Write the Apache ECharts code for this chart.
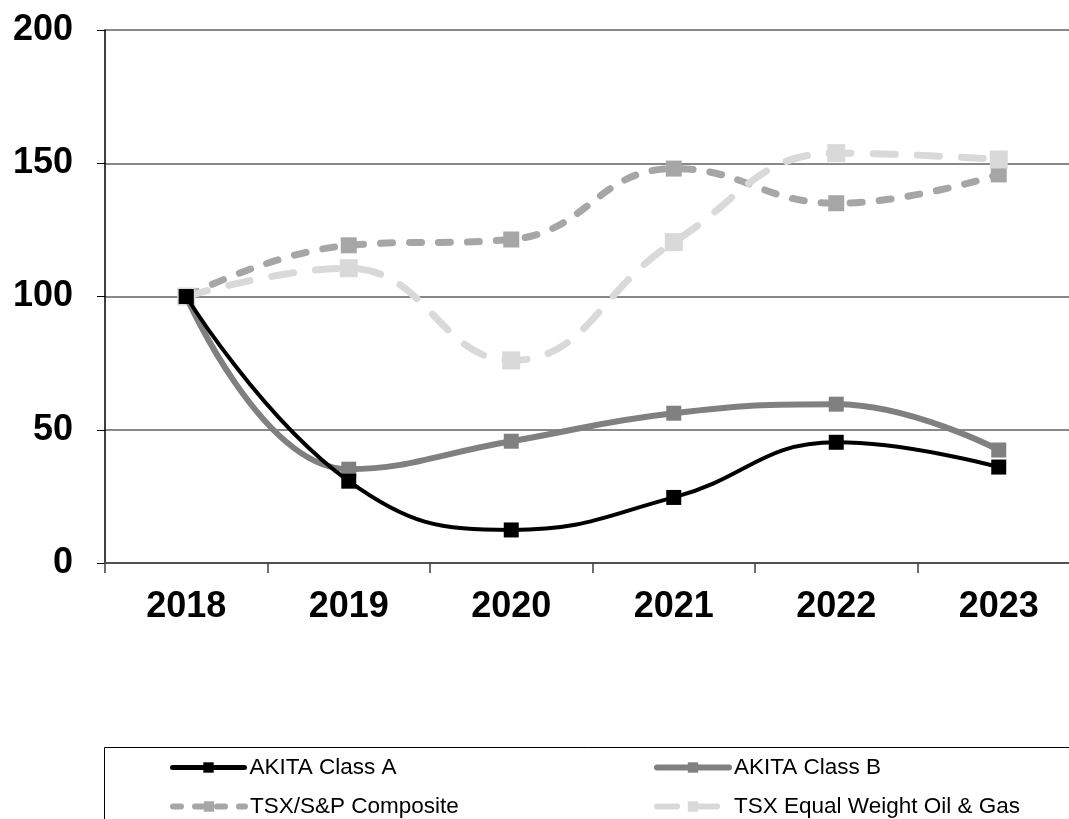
<!DOCTYPE html>
<html><head><meta charset="utf-8">
<script src="https://cdn.jsdelivr.net/npm/echarts@6/dist/echarts.min.js"></script>
<style>html,body{margin:0;padding:0;background:#fff}#c{width:1069px;height:819px}</style>
</head><body><div id="c"></div>
<script>
const years = ['2018','2019','2020','2021','2022','2023'];
const classA = [100, 30.7, 12.4, 24.6, 45.3, 36];
const classB = [100, 35.2, 45.7, 56.2, 59.6, 42.4];
const tsxComposite = [100, 119.2, 121.4, 148, 135, 145.8];
const tsxOilGas = [100, 110.6, 76, 120.4, 153.8, 151.4];
const yTicks = [0, 50, 100, 150, 200];

const F = '"Liberation Sans", Arial, sans-serif';
const chart = echarts.init(document.getElementById('c'));
function legend(name, left, top, ls) {
  return { data: [{ name: name, lineStyle: ls }], left: left, top: top, itemWidth: 72, itemHeight: 13, orient: 'horizontal',
    textStyle: { fontFamily: F, fontSize: 22.5, color: '#000' }, itemGap: 3, padding: 0, selectedMode: false };
}
chart.setOption({
  animation: false,
  backgroundColor: '#fff',
  grid: { left: 105, top: 30, width: 975, bottom: 256, containLabel: false, outerBoundsMode: 'none' },
  graphic: [{ type: 'rect', shape: { x: 104.5, y: 747.5, width: 1000, height: 100 }, style: { fill: 'none', stroke: '#000', lineWidth: 1 } }],
  legend: [
    legend('AKITA Class A', 170, 756, { width: 5, color: '#000', cap: 'round' }),
    legend('AKITA Class B', 654, 756, { width: 6, color: '#808080', cap: 'round' }),
    legend('TSX/S&P Composite', 170, 795, { width: 6, color: '#a6a6a6', type: [8, 14], cap: 'round' }),
    legend('TSX Equal Weight Oil & Gas', 654, 795, { width: 6, color: '#d9d9d9', type: [20, 20], cap: 'round' })
  ],
  xAxis: {
    type: 'category', data: years, boundaryGap: true,
    axisLine: { lineStyle: { color: '#505050', width: 2 } },
    axisTick: { show: true, length: 10, lineStyle: { color: '#404040', width: 1.5 } },
    axisLabel: { fontFamily: F, fontSize: 36, fontWeight: 'bold', color: '#000', margin: 26 }
  },
  yAxis: {
    type: 'value', min: 0, max: 200, interval: 50,
    axisLine: { show: true, lineStyle: { color: '#000', width: 1.5 } },
    axisTick: { show: true, length: 8, lineStyle: { color: '#000' } },
    axisLabel: { fontFamily: F, fontSize: 36, fontWeight: 'bold', color: '#000', margin: 32,
      formatter: v => yTicks.includes(v) ? String(v) : '' },
    splitLine: { lineStyle: { color: '#606060', width: 1.5 } }
  },
  series: [
    { name: 'AKITA Class A', type: 'line', data: classA, smooth: 0.45, symbol: 'rect', symbolSize: 15,
      itemStyle: { color: '#000' }, lineStyle: { color: '#000', width: 4 }, z: 5 },
    { name: 'AKITA Class B', type: 'line', data: classB, smooth: 0.45, symbol: 'rect', symbolSize: 15,
      itemStyle: { color: '#808080' }, lineStyle: { color: '#808080', width: 6 }, z: 4 },
    { name: 'TSX/S&P Composite', type: 'line', data: tsxComposite, smooth: 0.45, symbol: 'rect', symbolSize: 16,
      itemStyle: { color: '#a6a6a6' }, lineStyle: { color: '#a6a6a6', width: 7, type: [12, 17], cap: 'round' }, z: 3 },
    { name: 'TSX Equal Weight Oil & Gas', type: 'line', data: tsxOilGas, smooth: 0.45, symbol: 'rect', symbolSize: 18,
      itemStyle: { color: '#d9d9d9' }, lineStyle: { color: '#d9d9d9', width: 7, type: [22, 22], cap: 'round' }, z: 3 }
  ]
});
</script></body></html>
